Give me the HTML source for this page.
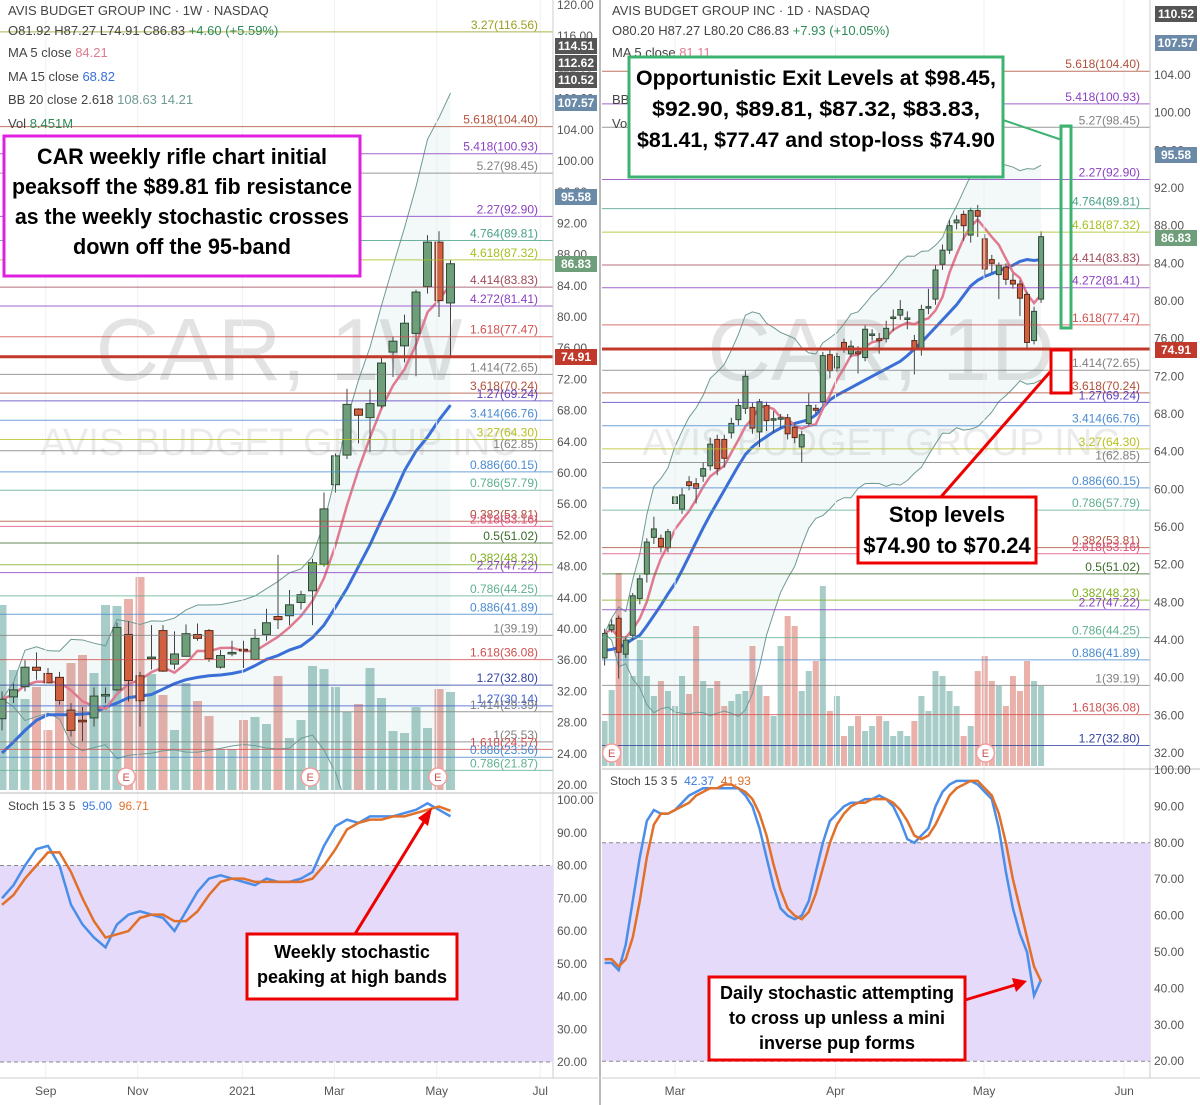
<!DOCTYPE html>
<html><head><meta charset="utf-8"><style>
body{margin:0;background:#fff;}
svg{display:block;font-family:"Liberation Sans",sans-serif;}
.ax{font-size:12px;fill:#555;}
.fib{font-size:12px;}
.hd{font-size:13px;fill:#444;}
.ann{font-weight:bold;fill:#000;text-anchor:middle;}
</style></head><body>
<svg id="c" width="1200" height="1105" viewBox="0 0 1200 1105">
<rect width="1200" height="1105" fill="#fff"/>
<g id="g"></g>
</svg>
<script>
// ---------- weekly (left) data ----------
const wOpen =[28.5,31.3,32.6,35.1,34.3,33.8,29.6,28.3,28.6,31.5,32.2,39.3,34.0,36.3,39.8,35.5,36.5,39.3,39.8,35.1,36.9,37.4,36.1,39.3,41.6,41.7,43.4,44.9,48.3,58.5,62.3,68.2,67.1,68.6,75.5,76.3,77.9,83.9,89.6,81.8];
const wClose=[31.0,32.2,35.1,34.7,33.1,30.8,27.0,28.1,31.4,31.6,40.2,33.4,30.8,36.4,34.6,36.8,39.4,38.8,36.2,36.6,37.0,37.2,38.8,40.8,41.2,43.1,44.4,48.5,55.4,62.2,68.8,67.4,68.9,74.1,76.9,79.2,83.2,89.6,82.1,86.83];
const wHigh =[32,33,36,37,35,34.5,30.5,30,32.5,32.5,40.8,41,34.5,40.5,40.5,39.7,40.6,40.7,40,37.3,38.5,38.5,40,42.6,49.5,45,44.9,49,57.5,62.5,70.8,68.3,70.7,74.9,77.5,80.3,83.5,90.5,91,87.3];
const wLow  =[27,30.5,32,33.5,33.3,30.3,26.2,25.6,27.5,30.5,32,30.7,27.5,34.8,34.5,34.8,38.8,38.5,35.8,34.9,36.5,35,36,38.5,40,40.5,42.5,40.5,48,57.5,61.8,63.8,62.7,68.3,72.3,74.2,72.4,83,80,74.91];
const wVol  =[18.5,12.0,9.1,10.3,6.0,8.8,12.7,13.5,11.7,18.5,18.4,19.1,21.3,11.6,9.5,6.0,10.7,8.9,7.4,4.1,4.1,7.0,7.3,6.6,11.4,5.2,7.0,12.4,12.1,10.3,7.8,8.6,12.2,9.2,5.9,5.7,8.3,6.2,10.1,9.8];
const wMA15 =[24.1,25.5,27,28.3,29,29,29,29.1,29.2,30,30.5,31.2,31.4,31.6,32.3,33,33.5,33.8,34,34.1,34.3,34.6,35.3,36.1,36.6,37.3,37.8,38.9,40.5,42.8,45.2,48,50.8,54,57,60.3,62.8,64.6,66.8,68.7];
const wStochK=[70,74,80,85,86,80,68,62,58,55,62,65,66,65,64,60,66,72,76,77,76,75,74,76,75,75,76,78,86,92,94,93,95,95,95,96,97,99,97,95];
const wStochD=[68,71,76,80,84,84,78,70,63,58,59,60,64,65,65,63,63,66,71,75,76,76,75,75,75,75,75,76,80,85,91,93,94,94,95,95,96,97,98,96.71];
const wTicks=[120,116,112,108,104,100,96,92,88,84,80,76,72,68,64,60,56,52,48,44,40,36,32,28,24,20];
const wMonths=["Sep","Nov","2021","Mar","May","Jul"];
const wMonthIdx=[3.8,11.8,20.9,28.9,37.8,46.8];
// ---------- daily (right) data ----------
const dOpen =[42.1,45.1,46.3,42.5,44.5,48.4,51.0,54.9,54.8,53.8,58.5,57.9,60.8,60.6,61.4,62.5,65.3,65.3,66.0,67.4,68.6,68.7,66.1,68.9,67.4,67.5,67.6,66.6,64.5,67.0,68.6,69.3,74.3,72.9,75.6,74.4,74.6,74.0,76.4,76.0,76.0,78.2,78.5,78.1,75.8,75.0,79.3,80.2,83.9,85.4,88.3,89.2,87.0,89.6,86.6,84.4,82.8,83.6,82.2,81.8,80.7,75.8,80.2];
const dClose=[44.7,45.6,42.7,44.0,48.7,50.5,54.4,55.8,53.9,55.5,59.2,59.4,60.4,60.1,62.2,64.8,62.2,63.3,67.0,68.9,72.0,66.5,69.3,67.3,67.5,67.6,65.9,65.5,65.8,68.9,68.4,74.2,72.6,74.1,75.0,75.2,74.4,77.0,76.5,75.8,77.1,78.3,79.1,78.2,75.0,79.1,79.4,83.3,85.4,88.0,88.6,88.0,89.6,89.0,83.4,84.0,83.8,82.3,81.8,80.3,75.6,78.9,86.83];
const dHigh =[45.2,46.2,46.6,44.4,49.0,50.9,54.8,57.1,55.2,55.8,59.6,60.2,61.4,61.2,62.9,65.5,65.8,65.8,67.6,69.6,72.6,69.2,69.6,69.3,68.3,68.0,68.0,67.0,66.2,70.2,69.0,74.6,74.8,74.5,76.0,75.8,75.2,77.4,77.0,76.6,77.9,79.1,80.1,78.9,76.4,79.6,81.3,83.8,86.0,88.6,89.1,89.6,89.9,90.2,87.1,84.9,84.1,84.0,82.9,82.2,81.0,79.4,87.4];
const dLow  =[41.3,44.8,39.9,42.1,44.0,47.8,50.1,54.2,53.3,53.3,57.9,57.4,59.9,58.5,60.8,62.0,61.5,62.3,65.4,66.8,68.0,65.9,64.5,66.2,66.0,66.5,65.3,64.9,62.8,66.7,68.0,68.9,71.8,72.5,74.5,74.0,72.3,73.6,75.8,74.4,75.6,76.8,78.0,77.0,72.2,74.2,78.6,79.6,83.3,85.0,87.6,86.4,86.2,86.8,82.6,83.0,80.2,81.7,81.3,78.4,74.9,75.4,79.8];
const dVol  =[45,76,193,126,90,126,90,70,85,75,60,90,72,140,85,78,85,60,65,72,75,120,80,70,50,120,150,140,75,95,105,180,55,70,30,40,50,35,40,50,45,30,35,30,45,70,55,95,90,75,60,30,40,95,110,85,80,60,90,75,105,85,80];
const dMA15 =[42.9,43.0,43.2,43.6,44.1,44.5,45.5,46.6,47.7,48.9,50.0,51.4,52.9,54.4,55.9,57.3,58.6,59.9,61.2,62.5,63.7,64.5,65.1,65.6,66.1,66.5,66.8,67.0,67.2,67.4,67.9,68.7,69.5,70.0,70.4,70.8,71.2,71.6,72.0,72.4,72.8,73.2,73.6,74.2,74.9,75.6,76.4,77.2,78.0,78.8,79.6,80.6,81.6,82.2,82.6,82.9,83.2,83.5,83.8,84.2,84.4,84.3,84.4];
const dStochK=[47,47,45,52,64,76,86,89,88,88,89,91,93,94,95,95,95,95,95,95,93,90,84,76,68,62,60,59,60,64,72,80,86,88,90,91,91,92,92,93,92,90,86,81,80,82,84,90,94,96,97,97,97,96,94,92,84,72,62,55,50,38,42.37];
const dStochD=[48,48,46,48,54,64,76,85,88,88,89,90,91,93,94,95,95,96,96,95,94,92,88,82,74,67,62,60,59,61,66,73,80,85,88,90,91,91,92,92,92,91,89,86,82,81,82,85,89,93,95,96,97,97,95,93,88,80,70,62,54,46,41.93];
const dTicks=[104,100,96,92,88,84,80,76,72,68,64,60,56,52,48,44,40,36,32];
const dMonths=["Mar","Apr","May","Jun"];
const dMonthIdx=[10,32.8,53.9,73.8];
const stochTicks=[100,90,80,70,60,50,40,30,20];
// fib levels
const fibPrice=[116.56,104.40,100.93,98.45,92.90,89.81,87.32,83.83,81.41,77.47,72.65,70.24,69.24,66.76,64.30,62.85,60.15,57.79,53.81,53.16,51.02,48.23,47.22,44.25,41.89,39.19,36.08,32.80,30.14,29.39,25.53,24.57,23.56,21.87,19.00];
const fibLabel=["3.27(116.56)","5.618(104.40)","5.418(100.93)","5.27(98.45)","2.27(92.90)","4.764(89.81)","4.618(87.32)","4.414(83.83)","4.272(81.41)","1.618(77.47)","1.414(72.65)","3.618(70.24)","1.27(69.24)","3.414(66.76)","3.27(64.30)","1(62.85)","0.886(60.15)","0.786(57.79)","0.382(53.81)","2.618(53.16)","0.5(51.02)","0.382(48.23)","2.27(47.22)","0.786(44.25)","0.886(41.89)","1(39.19)","1.618(36.08)","1.27(32.80)","1.27(30.14)","1.414(29.39)","1(25.53)","1.618(24.57)","0.886(23.56)","0.786(21.87)","0.382(19.00)"];
const fibColor=["#9aa020","#b0503a","#8a3fc0","#808080","#8a3fc0","#4aa08a","#a8c020","#a04a5a","#8a3fc0","#d05050","#808080","#b0503a","#5a40c0","#4a8ad0","#b8c020","#808080","#4a8ad0","#60b090","#b0503a","#e05080","#3a6a2a","#80b020","#8a3fc0","#60b090","#4a8ad0","#808080","#d05050","#3040a0","#4060d0","#808080","#808080","#d05050","#4a8ad0","#60b090","#b0503a"];

const NS="http://www.w3.org/2000/svg";
const G=document.getElementById('g');
function el(tag,attrs,parent){const e=document.createElementNS(NS,tag);for(const k in attrs)e.setAttribute(k,attrs[k]);(parent||G).appendChild(e);return e;}
function txt(x,y,s,attrs,parent){const e=el('text',Object.assign({x:x,y:y},attrs||{}),parent);e.textContent=s;return e;}

const yL=p=>5+(120-p)*7.8, yR=p=>75+(104-p)*9.417;
const xL=i=>2+i*11.5, xR=i=>604.6+i*7.04;
const yLS=v=>800+(100-v)*3.275, yRS=v=>770+(100-v)*3.64;

function drawPanel(cfg){
  const P=el('g',{});
  
  
  const clip=el('clipPath',{id:cfg.name+'-clip'},P);
  el('rect',{x:cfg.x0,y:0,width:cfg.x1-cfg.x0,height:cfg.yb},clip);
  const C=el('g',{'clip-path':'url(#'+cfg.name+'-clip)'},P);
  cfg.months.forEach((m,k)=>{const x=cfg.xs(cfg.monthIdx[k]);
    const l=el('line',{x1:x,x2:x,y1:0,y2:1078,stroke:'#eef0f3'},P);
    
    const t=txt(x,1095,m,{class:'ax','text-anchor':'middle'},P);
    });
  txt((cfg.x0+cfg.x1-40)/2,380,cfg.wm,{'font-size':'88','fill':'#e3e3e3','text-anchor':'middle'},C);
  txt((cfg.x0+cfg.x1-40)/2,455,'AVIS BUDGET GROUP INC',{'font-size':'38','fill':'#ebebeb','text-anchor':'middle'},C);
  cfg.vol.forEach((v,i)=>{const h=v*cfg.volScale;const up=cfg.close[i]>=cfg.open[i];
    const r=el('rect',{x:cfg.xs(i)-cfg.w/2-0.5,y:cfg.yb-h,width:cfg.w+1,height:h,fill:up?'#a8cdc8':'#eab0aa'},C);
    });
  const n=cfg.close.length, up=[], lo=[], ma5=[];
  for(let i=0;i<n;i++){const a=cfg.close.slice(Math.max(0,i-19),i+1);const m=a.reduce((s,v)=>s+v,0)/a.length;
    const sd=Math.sqrt(a.reduce((s,v)=>s+(v-m)*(v-m),0)/a.length);up.push(m+2.618*sd);lo.push(m-2.618*sd);
    const b=cfg.close.slice(Math.max(0,i-4),i+1);ma5.push(b.reduce((s,v)=>s+v,0)/b.length);}
  let dp='';for(let i=0;i<n;i++)dp+=(i?'L':'M')+cfg.xs(i)+','+cfg.ys(up[i]);
  for(let i=n-1;i>=0;i--)dp+='L'+cfg.xs(i)+','+cfg.ys(lo[i]);
  const bf=el('path',{d:dp+'Z',fill:'rgba(80,160,160,0.07)',stroke:'none'},C);
  [up,lo].forEach((arr,j)=>{const p=el('polyline',{points:arr.map((v,i)=>cfg.xs(i)+','+cfg.ys(v)).join(' '),fill:'none',stroke:'#6f9a95','stroke-width':1},C);
    });
  fibPrice.forEach((p,k)=>{const y=cfg.ys(p);if(y<0||y>cfg.yb-4)return;
    const l=el('line',{x1:cfg.x0,x2:cfg.axX,y1:y,y2:y,stroke:fibColor[k],'stroke-width':1,opacity:0.8},P);
    
    const t=txt(cfg.fibX,y-3,fibLabel[k],{class:'fib','text-anchor':'end',fill:fibColor[k]},P);
    });
  const cl=el('line',{x1:cfg.x0,x2:cfg.axX,y1:cfg.ys(74.91),y2:cfg.ys(74.91),stroke:'#c0392b','stroke-width':3},P);
  
  const m15=el('polyline',{points:cfg.ma15.map((v,i)=>cfg.xs(i)+','+cfg.ys(v)).join(' '),fill:'none',stroke:'#3a6fd8','stroke-width':3},C);
  
  const m5=el('polyline',{points:ma5.map((v,i)=>cfg.xs(i)+','+cfg.ys(v)).join(' '),fill:'none',stroke:'#e07a90','stroke-width':2.5},C);
  
  for(let i=0;i<n;i++){const x=cfg.xs(i),o=cfg.open[i],c=cfg.close[i],upc=c>=o;
    const g=el('g',{},C);
    el('line',{x1:x,x2:x,y1:cfg.ys(cfg.high[i]),y2:cfg.ys(cfg.low[i]),stroke:'#444','stroke-width':1},g);
    const t=cfg.ys(Math.max(o,c)),b=cfg.ys(Math.min(o,c));
    el('rect',{x:x-cfg.w/2,y:t,width:cfg.w,height:Math.max(1.5,b-t),fill:upc?'#6e9e7a':'#d0603f',stroke:upc?'#2e4a36':'#5a2a1a','stroke-width':1},g);}
  cfg.eIdx.forEach(i=>{const g=el('g',{},P);
    el('circle',{cx:cfg.xs(i),cy:cfg.yb-13,r:9,fill:'#fff',stroke:'#f0a0a0','stroke-width':1.5},g);
    txt(cfg.xs(i),cfg.yb-9,'E',{'font-size':'11','fill':'#d05050','text-anchor':'middle'},g);});
  el('line',{x1:cfg.axX,x2:cfg.axX,y1:0,y2:1078,stroke:'#ccc'},P);
  cfg.ticks.forEach(p=>{const y=cfg.ys(p);const t=txt(cfg.axX+4,y+4,p.toFixed(2),{class:'ax'},P);
    });
  const S=el('g',{},P);
  el('line',{x1:cfg.x0,x2:cfg.x1,y1:cfg.yb+3,y2:cfg.yb+3,stroke:'#bbb'},S);
  const f=el('rect',{x:cfg.x0,y:cfg.ss(80),width:cfg.axX-cfg.x0,height:cfg.ss(20)-cfg.ss(80),fill:'#e6dafa'},S);
  
  [80,20].forEach(v=>el('line',{x1:cfg.x0,x2:cfg.axX,y1:cfg.ss(v),y2:cfg.ss(v),stroke:'#888','stroke-dasharray':'4,3'},S));
  stochTicks.forEach(v=>{const t=txt(cfg.axX+4,cfg.ss(v)+4,v.toFixed(2),{class:'ax'},S);
    });
  const kl=el('polyline',{points:cfg.k.map((v,i)=>cfg.xs(i)+','+cfg.ss(v)).join(' '),fill:'none',stroke:'#4a8ee8','stroke-width':2.5},S);
  
  const dl=el('polyline',{points:cfg.d.map((v,i)=>cfg.xs(i)+','+cfg.ss(v)).join(' '),fill:'none',stroke:'#e0702a','stroke-width':2.5},S);
  
  const lab=el('text',{x:cfg.x0+8,y:cfg.stLabY,'font-size':'12',fill:'#444'},S);
  lab.innerHTML='Stoch 15 3 5 &#160;<tspan fill="#3a7ae0">'+cfg.k[n-1].toFixed(2)+'</tspan> &#160;<tspan fill="#e0702a">'+cfg.d[n-1].toFixed(2)+'</tspan>';
  
  el('line',{x1:cfg.x0,x2:cfg.x1,y1:1078,y2:1078,stroke:'#ccc'},P);
}
drawPanel({name:'weekly-panel',x0:0,x1:598,axX:553,fibX:538,yb:790,xs:xL,ys:yL,ss:yLS,w:8,volScale:10,
  open:wOpen,close:wClose,high:wHigh,low:wLow,vol:wVol,ma15:wMA15,k:wStochK,d:wStochD,ticks:wTicks,
  months:wMonths,monthIdx:wMonthIdx,eIdx:[10.8,26.8,37.9],wm:'CAR, 1W',stLabY:810});
drawPanel({name:'daily-panel',x0:602,x1:1200,axX:1150,fibX:1140,yb:766,xs:xR,ys:yR,ss:yRS,w:5,volScale:1,
  open:dOpen,close:dClose,high:dHigh,low:dLow,vol:dVol,ma15:dMA15,k:dStochK,d:dStochD,ticks:dTicks,
  months:dMonths,monthIdx:dMonthIdx,eIdx:[1,54.1],wm:'CAR, 1D',stLabY:785});
el('line',{x1:600,x2:600,y1:0,y2:1105,stroke:'#bbb','stroke-width':2});

function tag(x,y,s,col,nm){const g=el('g',{});
  el('rect',{x:x,y:y-8,width:42,height:16,fill:col},g);txt(x+21,y+4,s,{'font-size':'12','font-weight':'bold',fill:'#fff','text-anchor':'middle'},g);}
tag(555,46,'114.51','#555','tag-114-51');tag(555,63,'112.62','#555','tag-112-62');tag(555,80,'110.52','#555','tag-110-52');
tag(555,103,'107.57','#6a8aa8','tag-107-57');tag(555,197,'95.58','#6a8aa8','tag-95-58');tag(555,264,'86.83','#6e9e7a','tag-86-83');tag(555,357,'74.91','#c0392b','tag-74-91');
tag(1155,14,'110.52','#555','tag-110-52-d');tag(1155,43,'107.57','#6a8aa8','tag-107-57-d');tag(1155,155,'95.58','#6a8aa8','tag-95-58-d');tag(1155,238,'86.83','#6e9e7a','tag-86-83-d');tag(1155,350,'74.91','#c0392b','tag-74-91-d');
</script>
<div style="position:absolute;left:0;top:0;width:1200px;height:1105px;pointer-events:none;font-family:'Liberation Sans',sans-serif;">
<svg width="1200" height="1105" style="position:absolute;left:0;top:0">
<g font-size="13" fill="#444">
<text x="8" y="15">AVIS BUDGET GROUP INC · 1W · NASDAQ</text>
<text x="8" y="35">O81.92 H87.27 L74.91 C86.83 <tspan fill="#2e8b57">+4.60 (+5.59%)</tspan></text>
<text x="8" y="57">MA 5 close <tspan fill="#e07a90">84.21</tspan></text>
<text x="8" y="81">MA 15 close <tspan fill="#3a6fd8">68.82</tspan></text>
<text x="8" y="104">BB 20 close 2.618 <tspan fill="#6f9a95">108.63 14.21</tspan></text>
<text x="8" y="128">Vol <tspan fill="#2e8b57">8.451M</tspan></text>
</g>
<g font-size="13" fill="#444">
<text x="612" y="15">AVIS BUDGET GROUP INC · 1D · NASDAQ</text>
<text x="612" y="35">O80.20 H87.27 L80.20 C86.83 <tspan fill="#2e8b57">+7.93 (+10.05%)</tspan></text>
<text x="612" y="57">MA 5 close <tspan fill="#e07a90">81.11</tspan></text>
<text x="612" y="104">BB</text><text x="612" y="128">Vol</text>
</g>
<g>
<rect x="4" y="136" width="356" height="140" fill="#fff" stroke="#e020e0" stroke-width="3"/>
<text class="ann" x="182" y="164" font-size="22" textLength="290" lengthAdjust="spacingAndGlyphs">CAR weekly rifle chart initial</text>
<text class="ann" x="182" y="194" font-size="22" textLength="340" lengthAdjust="spacingAndGlyphs">peaksoff the $89.81 fib resistance</text>
<text class="ann" x="182" y="224" font-size="22" textLength="334" lengthAdjust="spacingAndGlyphs">as the weekly stochastic crosses</text>
<text class="ann" x="182" y="254" font-size="22" textLength="218" lengthAdjust="spacingAndGlyphs">down off the 95-band</text>
</g>
<g>
<line x1="1003" y1="120" x2="1062" y2="140" stroke="#3cb371" stroke-width="2"/>
<rect x="1061" y="126" width="10" height="202" fill="none" stroke="#3cb371" stroke-width="3"/>
<rect x="629" y="57" width="374" height="120" fill="#fff" stroke="#3cb371" stroke-width="3"/>
<text class="ann" x="816" y="85" font-size="21" textLength="360" lengthAdjust="spacingAndGlyphs">Opportunistic Exit Levels at $98.45,</text>
<text class="ann" x="816" y="116" font-size="21" textLength="328" lengthAdjust="spacingAndGlyphs">$92.90, $89.81, $87.32, $83.83,</text>
<text class="ann" x="816" y="147" font-size="21" textLength="358" lengthAdjust="spacingAndGlyphs">$81.41, $77.47 and stop-loss $74.90</text>
</g>
<g>
<rect x="1051" y="350" width="20" height="43" fill="none" stroke="#e00" stroke-width="3"/>
<line x1="1050" y1="372" x2="940" y2="498" stroke="#e00" stroke-width="3"/>
<rect x="858" y="497" width="178" height="66" fill="#fff" stroke="#e00" stroke-width="3"/>
<text class="ann" x="947" y="522" font-size="22">Stop levels</text>
<text class="ann" x="947" y="553" font-size="22">$74.90 to $70.24</text>
</g>
<g>
<line x1="355" y1="934" x2="425" y2="820" stroke="#e00" stroke-width="3"/>
<polygon points="432,808 418,818 428,826" fill="#e00"/>
<rect x="247" y="934" width="210" height="65" fill="#fff" stroke="#e00" stroke-width="3"/>
<text class="ann" x="352" y="958" font-size="18">Weekly stochastic</text>
<text class="ann" x="352" y="983" font-size="18">peaking at high bands</text>
</g>
<g>
<line x1="965" y1="1000" x2="1015" y2="985" stroke="#e00" stroke-width="3"/>
<polygon points="1027,981 1012,978 1016,992" fill="#e00"/>
<rect x="709" y="977" width="256" height="83" fill="#fff" stroke="#e00" stroke-width="3"/>
<text class="ann" x="837" y="999" font-size="18">Daily stochastic attempting</text>
<text class="ann" x="837" y="1024" font-size="18">to cross up unless a mini</text>
<text class="ann" x="837" y="1049" font-size="18">inverse pup forms</text>
</g>
</svg></div>
</body></html>
